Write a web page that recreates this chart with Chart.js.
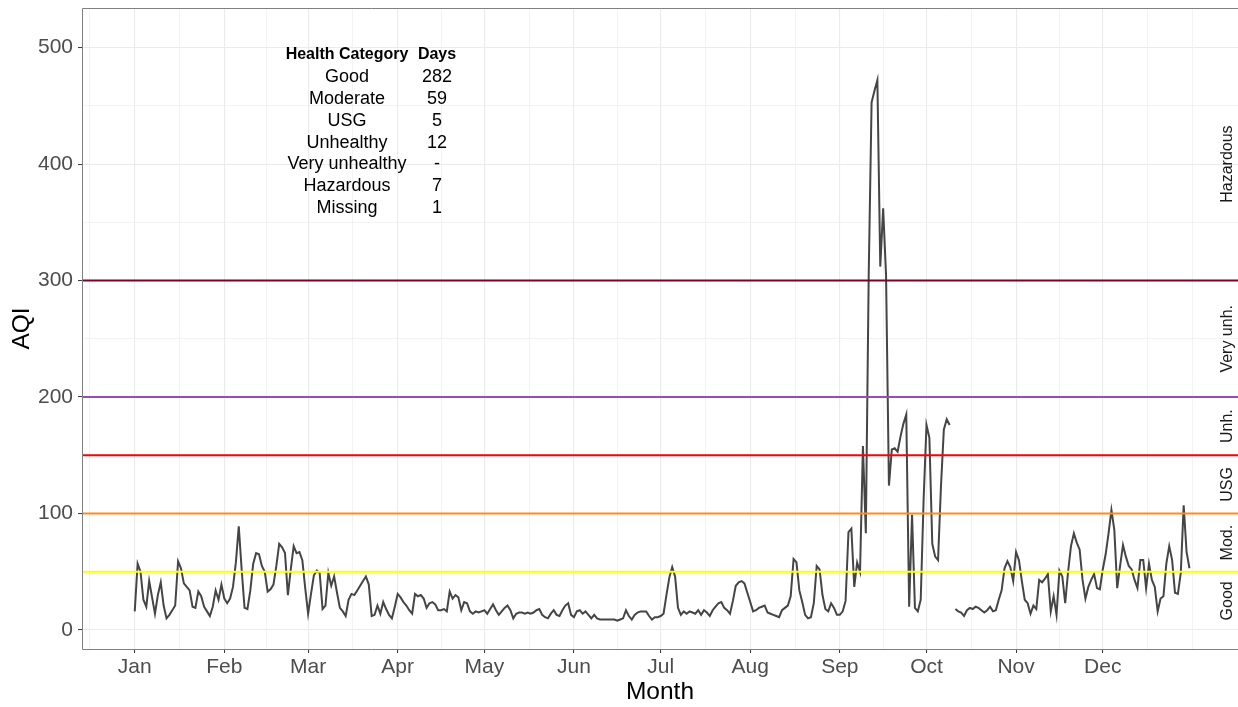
<!DOCTYPE html>
<html><head><meta charset="utf-8">
<script src="https://cdn.jsdelivr.net/npm/chart.js@4.4.1/dist/chart.umd.min.js"></script>
<style>html,body{margin:0;padding:0;background:#fff;overflow:hidden}#wrap{width:1238px;height:707px;position:relative}</style>
</head><body><div id="wrap"><canvas id="c" width="1238" height="707"></canvas></div>
<script>
// ---------- data ----------
const months = ['Jan','Feb','Mar','Apr','May','Jun','Jul','Aug','Sep','Oct','Nov','Dec'];
const monthStartDay = [0,31,60,91,121,152,182,213,244,274,305,335];
const yTickValues = [0,100,200,300,400,500];
const thresholds = [50,100,150,200,300];
const bandLabels = ['Good','Mod.','USG','Unh.','Very unh.','Hazardous'];
const bandMid = [25,75,125,175,250,400];
const tableCategories = ['Good','Moderate','USG','Unhealthy','Very unhealthy','Hazardous','Missing'];
const tableDays = ['282','59','5','12','-','7','1'];
const tableHeader = ['Health Category','Days'];
const aqi = [
16,57,50,26,20,42,28,14,30,41,
21,10,13,17,21,59,53,40,37,34,
20,19,33,29,20,16,12,20,34,26,
39,27,23,27,37,58,89,52,19,18,
34,57,66,65,55,50,33,35,39,55,
74,71,66,30,52,72,66,67,60,36,
14,31,47,51,49,18,21,49,38,46,
32,19,16,12,26,31,30,34,38,42,
46,39,12,13,21,14,24,18,13,10,
20,31,28,24,21,17,14,31,29,30,
27,19,23,24,22,17,17,18,16,33,
27,30,28,17,24,23,16,14,16,15,
16,17,14,18,22,17,13,16,19,21,
17,10,14,15,15,14,15,14,15,17,
18,13,11,
10,14,17,13,12,17,21,23,
13,11,16,17,14,16,13,10,13,10,
9,9,9,9,9,9,8,9,10,17,
12,9,13,15,16,16,16,12,9,11,
11,12,14,30,45,54,46,19,13,16,
14,16,15,14,17,13,17,15,12,17,
20,23,24,19,17,14,25,38,41,42,
40,32,24,16,17,19,20,21,15,14,
13,12,11,17,19,21,29,61,58,34,
24,13,10,11,23,55,52,30,18,16,
23,19,13,13,16,25,84,87,37,58,
50,158,83,305,453,463,472,312,362,305,
124,155,156,153,166,177,185,20,99,19,
16,26,112,176,165,74,63,60,123,172,
181,176,null,18,16,15,12,17,19,18,
20,19,17,15,17,20,16,17,26,34,
53,59,54,42,67,60,42,26,23,14,
21,18,43,41,44,48,16,29,13,51,
46,23,50,72,83,75,69,43,27,37,
43,48,36,35,52,65,83,103,86,36,
55,73,63,55,52,43,36,60,60,36,
57,43,37,16,27,29,57,72,60,32,
31,49,107,67,53
];

// ---------- styles ----------
const FONT = '"Liberation Sans", Arial, sans-serif';
const thresholdColors = ['#FFFF00','#FF8C1A','#FF0000','#9B4DB3','#7E0023'];
const X_MIN = -18.25, X_MAX = 381.8, Y_MIN = -16.3, Y_MAX = 534;

// gridline positions (major = month starts, minor = midpoints)
const xMajor = monthStartDay.slice();
const ext = [-31].concat(monthStartDay, [366]);
const xMinor = [];
for (let i = 0; i < ext.length - 1; i++) xMinor.push((ext[i] + ext[i+1]) / 2);
xMinor.push(366);
const xTickVals = xMajor.concat(xMinor).filter(v => v >= X_MIN && v <= X_MAX).sort((a,b)=>a-b);
const yMinor = yTickValues.slice(0,-1).map(v => v + 50);
const yTickVals = yTickValues.concat(yMinor).sort((a,b)=>a-b);

const seriesPoints = aqi.map((v,i) => ({x:i, y:v}));
const hlineSets = thresholds.map((t,i) => ({
  data:[{x:X_MIN,y:t},{x:X_MAX,y:t}],
  borderColor: thresholdColors[i], borderWidth: 2, pointRadius: 0, order: 0
}));

const panelPlugin = {
  id:'panel',
  afterDraw(chart){
    const {ctx, chartArea:a, scales} = chart;
    ctx.save();
    ctx.strokeStyle = '#808080'; ctx.lineWidth = 1;
    ctx.beginPath();
    ctx.moveTo(a.right+1, a.top+0.5); ctx.lineTo(a.left+0.5, a.top+0.5);
    ctx.lineTo(a.left+0.5, a.bottom+0.5); ctx.lineTo(a.right+1, a.bottom+0.5);
    ctx.stroke();
    ctx.fillStyle = '#1a1a1a';
    ctx.font = '16px ' + FONT;
    ctx.textAlign = 'center'; ctx.textBaseline = 'middle';
    bandLabels.forEach((lab,i) => {
      const y = scales.y.getPixelForValue(bandMid[i]);
      ctx.save(); ctx.translate(a.right - 10, y); ctx.rotate(-Math.PI/2);
      ctx.fillText(lab, 0, 0); ctx.restore();
    });
    const c1 = a.left + 265, c2 = a.left + 355, y0 = a.top + 47, dy = 21.9;
    ctx.fillStyle = '#000';
    ctx.font = 'bold 16px ' + FONT;
    ctx.fillText(tableHeader[0], c1, y0);
    ctx.fillText(tableHeader[1], c2, y0);
    ctx.font = '18px ' + FONT;
    tableCategories.forEach((cat,i) => {
      ctx.fillText(cat, c1, y0 + dy*(i+1));
      ctx.fillText(tableDays[i], c2, y0 + dy*(i+1));
    });
    ctx.restore();
  }
};

new Chart(document.getElementById('c'), {
  type:'line',
  data:{ datasets: hlineSets.concat([{
    data: seriesPoints, borderColor:'#454545', borderWidth:2, pointRadius:0,
    spanGaps:false, tension:0, order:1
  }])},
  options:{
    responsive:false, animation:false, devicePixelRatio:1,
    layout:{padding:{top:8,right:0,bottom:0,left:0}},
    plugins:{legend:{display:false}, tooltip:{enabled:false}},
    scales:{
      x:{
        type:'linear', min:X_MIN, max:X_MAX,
        afterBuildTicks: s => { s.ticks = xTickVals.map(v => ({value:v})); },
        afterFit: s => { s.height = 58; s.paddingLeft = 0; s.paddingRight = 0; },
        ticks:{autoSkip:false, maxRotation:0, minRotation:0, padding:2, color:'#4D4D4D',
          font:{size:21, family:FONT},
          callback: v => { const i = monthStartDay.indexOf(v); return i >= 0 ? months[i] : ''; }},
        grid:{color:'#EBEBEB',
          lineWidth: c => (c.tick && monthStartDay.includes(c.tick.value)) ? 1.1 : 0.6,
          tickLength:4, tickWidth:1,
          tickColor: c => (c.tick && monthStartDay.includes(c.tick.value)) ? '#333333' : 'rgba(0,0,0,0)'},
        border:{display:false},
        title:{display:true, text:'Month', color:'#000', font:{size:24.5, family:FONT}, padding:{top:0,bottom:0}}
      },
      y:{
        min:Y_MIN, max:Y_MAX,
        afterBuildTicks: s => { s.ticks = yTickVals.map(v => ({value:v})); },
        afterFit: s => { s.width = 82; s.paddingTop = 0; s.paddingBottom = 0; },
        ticks:{autoSkip:false, padding:5, color:'#4D4D4D', font:{size:21, family:FONT},
          callback: v => yTickValues.includes(v) ? String(v) : ''},
        grid:{color:'#EBEBEB',
          lineWidth: c => (c.tick && yTickValues.includes(c.tick.value)) ? 1.1 : 0.6,
          tickLength:4, tickWidth:1,
          tickColor: c => (c.tick && yTickValues.includes(c.tick.value)) ? '#333333' : 'rgba(0,0,0,0)'},
        border:{display:false},
        title:{display:true, text:'AQI', color:'#000', font:{size:24.5, family:FONT}, padding:{top:8,bottom:0}}
      }
    }
  },
  plugins:[panelPlugin]
});
</script></body></html>
